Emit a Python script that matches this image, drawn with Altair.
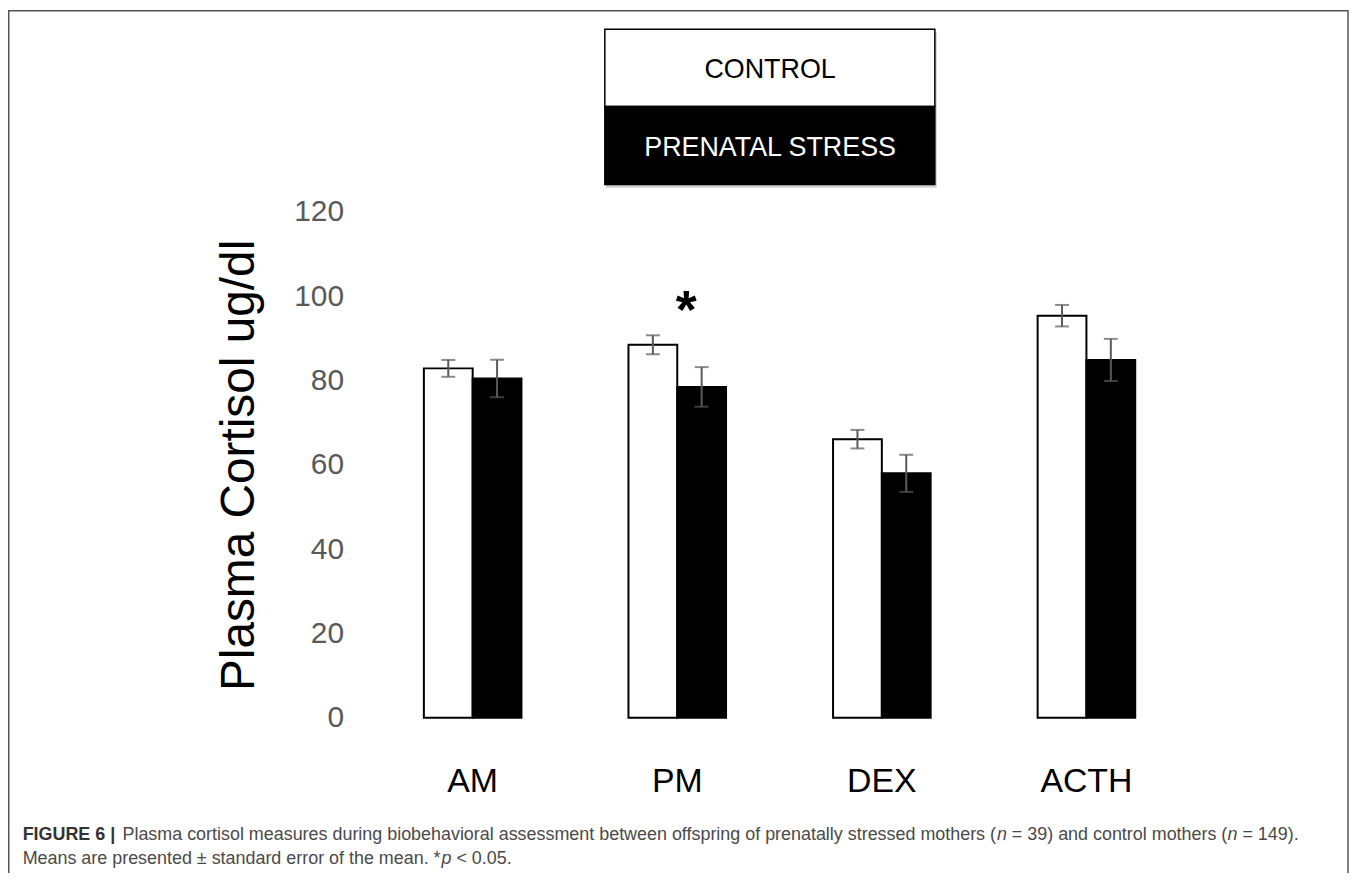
import altair as alt
import pandas as pd

# ---- data ----
groups = ["AM", "PM", "DEX", "ACTH"]
series = ["CONTROL", "PRENATAL STRESS"]
control_mean = [82.9, 88.5, 66.1, 95.4]
control_se = [2.0, 2.25, 2.2, 2.55]
stress_mean = [80.5, 78.5, 58.0, 84.9]
stress_se = [4.45, 4.7, 4.4, 5.0]
y_ticks = [0, 20, 40, 60, 80, 100, 120]
sig_groups = ["PM"]
sig_mark = "*"
y_title = "Plasma Cortisol ug/dl"
caption_bold = "FIGURE 6 |"
# caption segments: (text, italic?)
caption_line1 = [
    ("Plasma cortisol measures during biobehavioral assessment between offspring of "
     "prenatally stressed mothers (", False),
    ("n", True),
    (" = 39) and control mothers (", False),
    ("n", True),
    (" = 149).", False),
]
caption_line2 = [
    ("Means are presented \u00b1 standard error of the mean. *", False),
    ("p", True),
    (" < 0.05.", False),
]

rows = []
for g, m, s in zip(groups, control_mean, control_se):
    rows.append({"group": g, "series": series[0], "mean": m, "lo": m - s, "hi": m + s})
for g, m, s in zip(groups, stress_mean, stress_se):
    rows.append({"group": g, "series": series[1], "mean": m, "lo": m - s, "hi": m + s})
df = pd.DataFrame(rows)

star_df = pd.DataFrame({
    "group": sig_groups,
    "label": [sig_mark] * len(sig_groups),
    "y": [df[df.group == g]["hi"].max() for g in sig_groups],
})

FONT = "Liberation Sans"
CAP_SIZE = 18

# Arial / Liberation Sans advance widths (1/1000 em) used to chain caption segments
AW = {' ': 278, '(': 333, ')': 333, '=': 584, '.': 278, '*': 389, '<': 584, '\u00b1': 584,
      'P': 667, 'M': 833,
      'a': 556, 'b': 556, 'c': 500, 'd': 556, 'e': 556, 'f': 278, 'g': 556, 'h': 556,
      'i': 222, 'j': 222, 'k': 500, 'l': 222, 'm': 833, 'n': 556, 'o': 556, 'p': 556,
      'q': 556, 'r': 333, 's': 500, 't': 278, 'u': 556, 'v': 500, 'w': 722, 'x': 500,
      'y': 500, 'z': 500}


def text_width(s, size):
    return sum(AW.get(c, 556) for c in s) * size / 1000.0


x_enc = alt.X(
    "group:N", sort=groups, title=None,
    scale=alt.Scale(paddingInner=0.523, paddingOuter=0.2615),
    axis=alt.Axis(labelFont=FONT, labelFontSize=34, labelColor="black", labelAngle=0,
                  labelPadding=74, labelBaseline="alphabetic", ticks=False, tickSize=0,
                  domain=False, grid=False),
)
xo_enc = alt.XOffset("series:N", sort=series, scale=alt.Scale(paddingInner=0, paddingOuter=0))
y_scale = alt.Scale(domain=[0, 120], nice=False)
y_axis = alt.Axis(values=y_ticks, labelFont=FONT, labelFontSize=30, labelColor="#595959",
                  labelPadding=27, ticks=False, tickSize=0, domain=False, grid=False,
                  titleFont=FONT, titleFontSize=48, titleColor="black", titleFontWeight="normal",
                  titleAngle=270, titleX=-117, titleY=254, titleAlign="center",
                  titleBaseline="alphabetic")

base = alt.Chart(df)

bars = base.mark_bar(stroke="black", strokeWidth=2).encode(
    x=x_enc, xOffset=xo_enc,
    y=alt.Y("mean:Q", scale=y_scale, axis=y_axis, title=y_title),
    color=alt.Color("series:N", scale=alt.Scale(domain=series, range=["white", "black"]), legend=None),
)

err_color = "#5a5a5a"
rules = base.mark_rule(color=err_color, strokeWidth=2).encode(
    x=x_enc, xOffset=xo_enc,
    y=alt.Y("lo:Q", scale=y_scale, title=y_title), y2="hi:Q",
)
cap_hi = base.mark_tick(color=err_color, thickness=2, size=14).encode(
    x=x_enc, xOffset=xo_enc, y=alt.Y("hi:Q", scale=y_scale, title=y_title),
)
cap_lo = base.mark_tick(color=err_color, thickness=2, size=14).encode(
    x=x_enc, xOffset=xo_enc, y=alt.Y("lo:Q", scale=y_scale, title=y_title),
)

star = alt.Chart(star_df).mark_text(font=FONT, fontSize=54, fontWeight="bold", color="black",
                                    baseline="alphabetic", align="center", dx=9, dy=-7).encode(
    x=x_enc, y=alt.Y("y:Q", scale=y_scale, title=y_title), text="label:N",
)

# ---- decorations: frame, legend box, caption ----
one = pd.DataFrame({"k": [0]})
frame = alt.Chart(one).mark_rect(fill="white", fillOpacity=0, stroke="#555555", strokeWidth=1.5).encode(
    x=alt.value(-363.25), x2=alt.value(982), y=alt.value(-202.25), y2=alt.value(700))

shadow = alt.Chart(one).mark_rect(fill="black", opacity=0.18).encode(
    x=alt.value(236.5), x2=alt.value(569), y=alt.value(-181), y2=alt.value(-24.5))
leg_top = alt.Chart(one).mark_rect(fill="white", stroke="black", strokeWidth=1.5).encode(
    x=alt.value(235.5), x2=alt.value(567), y=alt.value(-183.7), y2=alt.value(-106))
leg_bot = alt.Chart(one).mark_rect(fill="black", stroke="black", strokeWidth=1.5).encode(
    x=alt.value(235.5), x2=alt.value(567), y=alt.value(-106), y2=alt.value(-27.7))
leg_t1 = alt.Chart(pd.DataFrame({"label": [series[0]]})).mark_text(
    font=FONT, fontSize=27, color="black", align="center", baseline="middle").encode(
    x=alt.value(401.5), y=alt.value(-143), text="label:N")
leg_t2 = alt.Chart(pd.DataFrame({"label": [series[1]]})).mark_text(
    font=FONT, fontSize=27, color="white", align="center", baseline="middle").encode(
    x=alt.value(401.5), y=alt.value(-64.5), text="label:N")

cap_layers = [alt.Chart(pd.DataFrame({"t": [caption_bold]})).mark_text(
    font=FONT, fontSize=CAP_SIZE, fontWeight="bold", color="#333333", align="left",
    baseline="alphabetic").encode(x=alt.value(-349.3), y=alt.value(631), text="t:N")]


def caption_segments(segments, x0, y0):
    out = []
    x = x0
    for txt, ital in segments:
        stripped = txt.lstrip(" ")
        x += text_width(txt[: len(txt) - len(stripped)], CAP_SIZE)
        out.append(alt.Chart(pd.DataFrame({"t": [stripped]})).mark_text(
            font=FONT, fontSize=CAP_SIZE, fontStyle="italic" if ital else "normal",
            color="#4a4a4a", align="left", baseline="alphabetic").encode(
            x=alt.value(round(x, 2)), y=alt.value(y0), text="t:N"))
        x += text_width(stripped, CAP_SIZE)
    return out


cap_layers += caption_segments(caption_line1, -249, 631)
cap_layers += caption_segments(caption_line2, -349.3, 655)

chart = alt.layer(
    frame, shadow, leg_top, leg_bot, leg_t1, leg_t2,
    bars, rules, cap_hi, cap_lo, star, *cap_layers,
).properties(
    width=822, height=508,
    padding={"left": 364, "top": 203, "right": 162, "bottom": 154},
    autosize=alt.AutoSizeParams(type="none"),
).configure(
    background="white",
    view=alt.ViewConfig(stroke=None, strokeWidth=0),
)

chart.save("out.html", embed_options={"renderer": "svg", "actions": False})
